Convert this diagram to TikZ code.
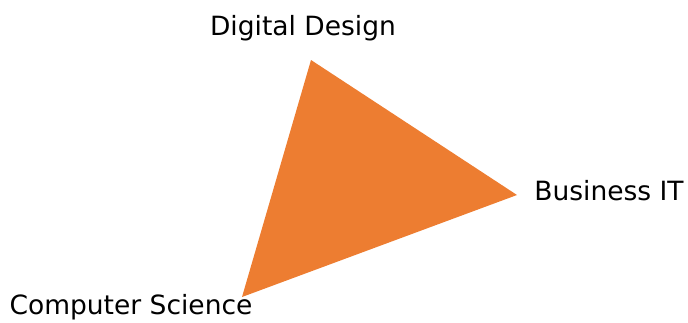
\documentclass[tikz,border=0pt]{standalone}
\usepackage{fontspec}
\setmainfont{DejaVu Sans}
\definecolor{accent}{HTML}{ED7D31}
\begin{document}
\begin{tikzpicture}[x=1pt,y=-1pt]
			\useasboundingbox (0,0) rectangle (688,322);
			\coordinate (dd) at (311,  60);
			\coordinate (bi) at (517, 195);
			\coordinate (cs) at (242, 297);
			\fill[accent] (dd) -- (bi) -- (cs) -- cycle;
			
			\def\list {303/28/Digital Design/ldd, 609/191/Business IT/lbi, 131/307/Computer Science/lcs}  % field names
			\foreach \x/\y/\name/\id in \list
			{	\node[font=\fontsize{26.5}{30}\selectfont, inner sep=0pt] (\id) at (\x,\y) {\name};
			}
		\end{tikzpicture}
\end{document}
